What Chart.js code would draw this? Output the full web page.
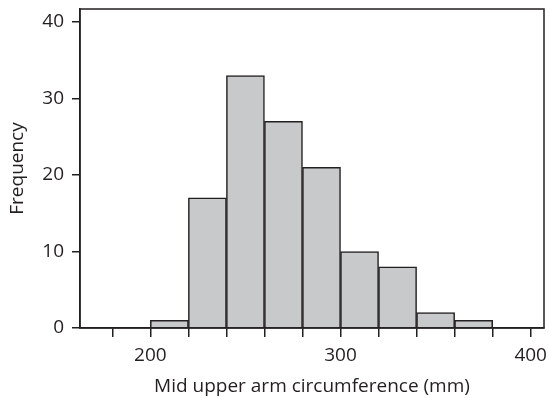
<!DOCTYPE html>
<html>
<head>
<meta charset="utf-8">
<script src="https://cdn.jsdelivr.net/npm/chart.js@4"></script>
<style>
  html, body { margin: 0; padding: 0; background: #fff; }
  #wrap { width: 549px; height: 398px; }
</style>
</head>
<body>
<div id="wrap"><canvas id="hist"></canvas></div>
<script>
// bin centres (mm), width 20
const binCentres = [210, 230, 250, 270, 290, 310, 330, 350, 370];
const counts = [1, 17, 33, 27, 21, 10, 8, 2, 1];
const xTicks = [180, 200, 220, 240, 260, 280, 300, 320, 340, 360, 380, 400];
const xLabelled = [200, 300, 400];
const yTicks = [0, 10, 20, 30, 40];

const ink = '#231f20';
const font = { family: "'Open Sans', sans-serif", size: 19 };

// box round the plot area
const frame = {
  id: 'frame',
  afterDraw(c) {
    const a = c.chartArea, ctx = c.ctx;
    ctx.save();
    ctx.strokeStyle = ink;
    ctx.lineWidth = 1.5;
    ctx.strokeRect(a.left, a.top, a.right - a.left, a.bottom - a.top);
    ctx.restore();
  }
};

// no extra room for overhanging tick labels
function noPad(s) {
  s.paddingTop = 0; s.paddingBottom = 0;
  s.paddingLeft = 0; s.paddingRight = 0;
}

const chart = new Chart(document.getElementById('hist'), {
  type: 'bar',
  data: {
    datasets: [{
      data: binCentres.map((x, i) => ({ x: x, y: counts[i] })),
      backgroundColor: '#c8c9cb',
      borderColor: ink,
      borderWidth: 1.5,
      barPercentage: 1,
      categoryPercentage: 1
    }]
  },
  options: {
    responsive: true,
    maintainAspectRatio: false,
    animation: false,
    layout: { padding: { top: 9, right: 5, left: 0, bottom: 0 } },
    plugins: { legend: { display: false }, tooltip: { enabled: false } },
    scales: {
      x: {
        type: 'linear',
        offset: false,
        min: 163,
        max: 407,
        afterBuildTicks: s => { s.ticks = xTicks.map(v => ({ value: v })); },
        afterFit: s => { s.height = 70; noPad(s); },
        grid: { offset: false, drawOnChartArea: false, color: ink, lineWidth: 1.5, tickLength: 9 },
        border: { color: ink, width: 1.5 },
        ticks: {
          color: ink, font: font, padding: 7, maxRotation: 0, autoSkip: false,
          callback: v => xLabelled.includes(v) ? String(v) : ''
        },
        title: {
          display: true, text: 'Mid upper arm circumference (mm)',
          color: ink, font: font, padding: { top: 0, bottom: 0 }
        }
      },
      y: {
        min: 0,
        max: 41.7,
        afterBuildTicks: s => { s.ticks = yTicks.map(v => ({ value: v })); },
        afterFit: s => { s.width = 80; noPad(s); },
        grid: { drawOnChartArea: false, color: ink, lineWidth: 1.5, tickLength: 8 },
        border: { color: ink, width: 1.5 },
        ticks: { color: ink, font: font, padding: 8 },
        title: {
          display: true, text: 'Frequency',
          color: ink, font: font, padding: { top: 6, bottom: 0 }
        }
      }
    }
  },
  plugins: [frame]
});
</script>
</body>
</html>
